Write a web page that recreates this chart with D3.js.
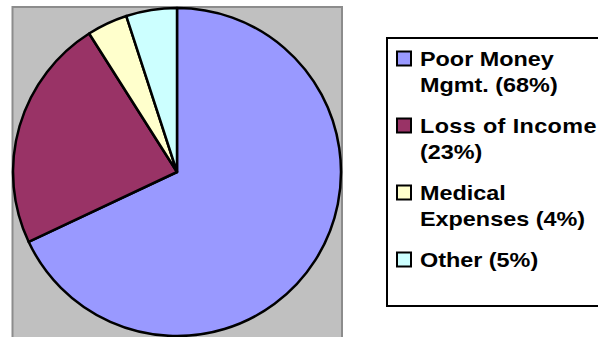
<!DOCTYPE html>
<html>
<head>
<meta charset="utf-8">
<script src="https://cdn.jsdelivr.net/npm/d3@7"></script>
<style>
  body { margin: 0; background: #fff; }
  svg { display: block; }
</style>
</head>
<body>
<svg id="chart" width="598" height="337"></svg>
<script>
// slice data, clockwise from 12 o'clock
const categories = ['Poor Money Mgmt.', 'Loss of Income', 'Medical Expenses', 'Other'];
const values = [68, 23, 4, 5];
const legendLines = [
    ['Poor Money', 'Mgmt. (68%)'],
    ['Loss of Income', '(23%)'],
    ['Medical', 'Expenses (4%)'],
    ['Other (5%)']
];
const colors = ['#9999ff', '#993366', '#ffffcc', '#ccffff'];

let svg = d3.select('#chart');

// gray plot area
svg.append('rect')
    .attr('x', 12.5).attr('y', 7)
    .attr('width', 329.5).attr('height', 340)
    .style('fill', '#c0c0c0')
    .style('stroke', '#8c8c8c')
    .style('stroke-width', 2);

let cx = 177, cy = 172, r = 164;

let pie = d3.pie().sort(null).value(function(d){ return d; });
let arc = d3.arc().innerRadius(0).outerRadius(r);

let color = d3.scaleOrdinal().domain(categories).range(colors);

svg.append('g')
    .attr('transform', 'translate(' + cx + ',' + cy + ')')
    .selectAll('path')
    .data(pie(values))
    .enter().append('path')
    .attr('d', arc)
    .style('fill', function(d, i){ return color(categories[i]); })
    .style('stroke', 'black')
    .style('stroke-width', 2.5)
    .style('stroke-linejoin', 'round');

// legend box
svg.append('rect')
    .attr('x', 387).attr('y', 38)
    .attr('width', 240).attr('height', 268)
    .style('fill', 'white')
    .style('stroke', 'black')
    .style('stroke-width', 2);

let itemY = d3.scaleLinear().domain([0, 1]).range([66, 133]);

let items = svg.append('g').selectAll('g')
    .data(categories)
    .enter().append('g')
    .attr('transform', function(d, i){ return 'translate(0,' + itemY(i) + ')'; });

items.append('rect')
    .attr('x', 397).attr('y', -14.5)
    .attr('width', 14).attr('height', 14)
    .style('fill', function(d){ return color(d); })
    .style('stroke', 'black')
    .style('stroke-width', 2);

items.each(function(d, i){
    let g = d3.select(this);
    let t = g.append('text')
        .attr('transform', 'translate(420,0) scale(1.2,1)')
        .style('font-family', '"Liberation Sans", Arial, sans-serif')
        .style('font-weight', 'bold')
        .style('font-size', '19.5px')
        .style('fill', 'black');
    legendLines[i].forEach(function(line, k){
        let ts = t.append('tspan').attr('x', 0).attr('y', k * 26).text(line);
        // the original renders this one line noticeably wider
        if(line === 'Loss of Income') ts.attr('textLength', 147).attr('lengthAdjust', 'spacing');
    });
});
</script>
</body>
</html>
